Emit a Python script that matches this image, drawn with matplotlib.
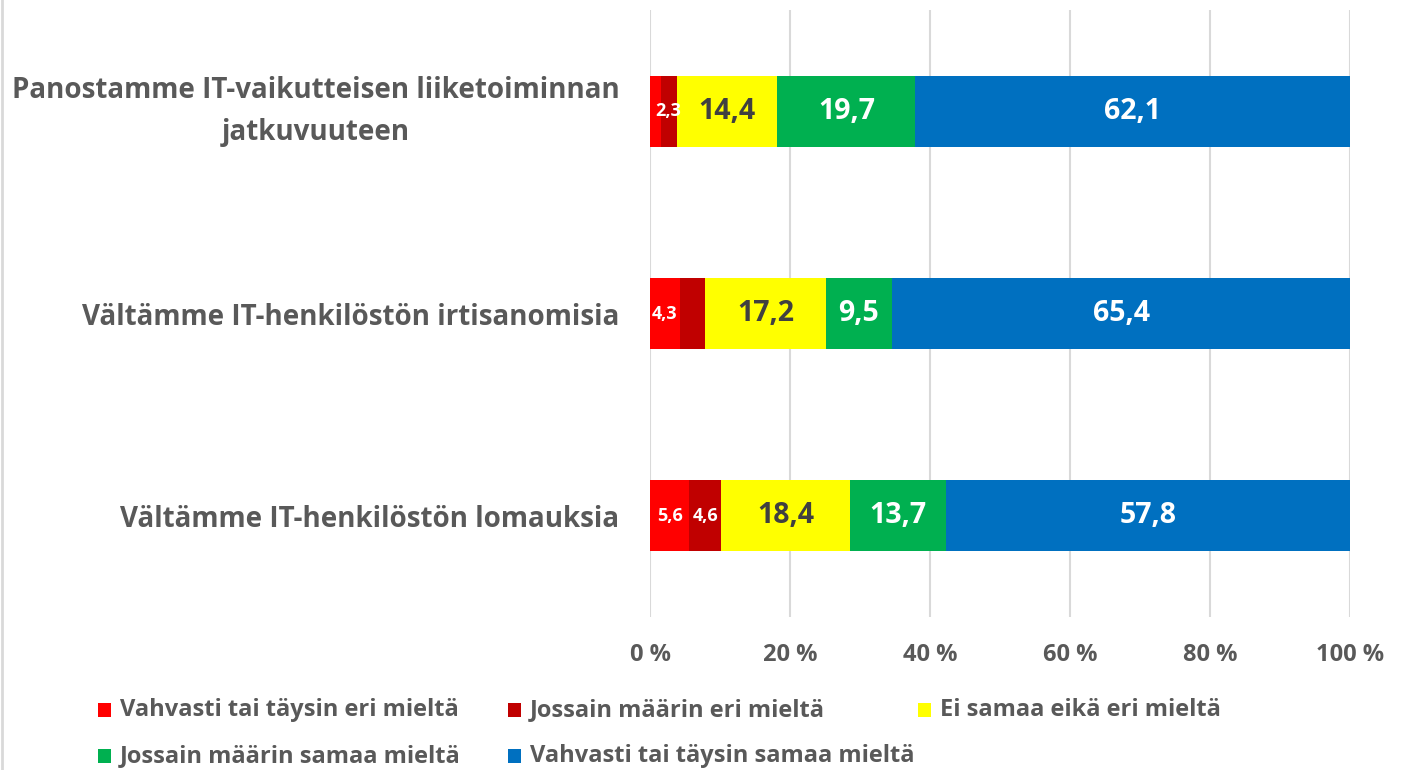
import numpy as np
import matplotlib.pyplot as plt
from matplotlib.patches import Rectangle

plt.rcParams['font.family'] = ['Open Sans', 'DejaVu Sans']
plt.rcParams['font.weight'] = 'bold'

categories = ['Panostamme IT-vaikutteisen liiketoiminnan\njatkuvuuteen',
              'Vältämme IT-henkilöstön irtisanomisia',
              'Vältämme IT-henkilöstön lomauksia']
series = ['Vahvasti tai täysin eri mieltä',
          'Jossain määrin eri mieltä',
          'Ei samaa eikä eri mieltä',
          'Jossain määrin samaa mieltä',
          'Vahvasti tai täysin samaa mieltä']
vahvasti_eri = [1.5, 4.3, 5.6]
jossain_eri = [2.3, 3.6, 4.6]
ei_samaa = [14.4, 17.2, 18.4]
jossain_samaa = [19.7, 9.5, 13.7]
vahvasti_samaa = [62.1, 65.4, 57.8]
# which labels are shown (Excel hid the tiny ones)
shown = [[False, True, True, True, True],
         [True, False, True, True, True],
         [True, True, True, True, True]]

colors = ['#ff0000', '#c00000', '#ffff00', '#00b050', '#0070c0']
label_colors = ['white', 'white', '#404040', 'white', 'white']
grey = '#595959'

data = np.array([vahvasti_eri, jossain_eri, ei_samaa, jossain_samaa, vahvasti_samaa])

W, H = 1404, 770
fig = plt.figure(figsize=(W / 100, H / 100), dpi=100)
ax = fig.add_axes([650 / W, 1 - 617 / H, 700 / W, 607 / H])

y = np.arange(len(categories))
left = np.zeros(len(categories))
for i in range(len(series)):
    ax.barh(y, data[i], left=left, height=0.35, color=colors[i],
            label=series[i], zorder=3)
    for j in range(len(categories)):
        if shown[j][i]:
            v = data[i][j]
            small = i < 2
            ax.text(left[j] + v / 2, y[j], '{:.1f}'.format(v).replace('.', ','),
                    ha='center', va='center', color=label_colors[i],
                    fontsize=13 if small else 20.5, fontweight='bold', zorder=4)
    left += data[i]

ax.set_xlim(0, 100)
ax.set_ylim(2.5, -0.5)
ax.set_xticks(np.arange(0, 101, 20))
ax.set_xticklabels(['{} %'.format(t) for t in range(0, 101, 20)])
ax.set_yticks(y)
ax.set_yticklabels(categories, linespacing=1.6)
ax.tick_params(axis='x', length=0, pad=19, labelsize=17, labelcolor=grey)
ax.tick_params(axis='y', length=0, pad=22, labelsize=20, labelcolor=grey)
for t in ax.get_yticklabels():
    t.set_horizontalalignment('right')
    t.set_multialignment('center')
    if '\n' in t.get_text():
        t.set_verticalalignment('center')
ax.grid(axis='x', color='#d9d9d9', linewidth=1.5, zorder=0)
for s in ax.spines.values():
    s.set_visible(False)

# legend laid out like Excel: equal column widths, row-wise order
leg_x0, leg_y0, col_w, row_h = 98, 710, 410, 46
for k, name in enumerate(series):
    r, c = divmod(k, 3)
    x = leg_x0 + c * col_w
    yc = leg_y0 + r * row_h
    fig.add_artist(Rectangle((x / W, 1 - (yc + 7) / H), 13 / W, 14 / H,
                             facecolor=colors[k], edgecolor='none',
                             transform=fig.transFigure))
    fig.text((x + 22) / W, 1 - yc / H, name, fontsize=17, color=grey,
             ha='left', va='center', fontweight='bold')

fig.add_artist(plt.Line2D([2 / W, 2 / W], [0, 1], color='#d9d9d9',
                          linewidth=2, transform=fig.transFigure))

fig.savefig('out.png', dpi=100)
